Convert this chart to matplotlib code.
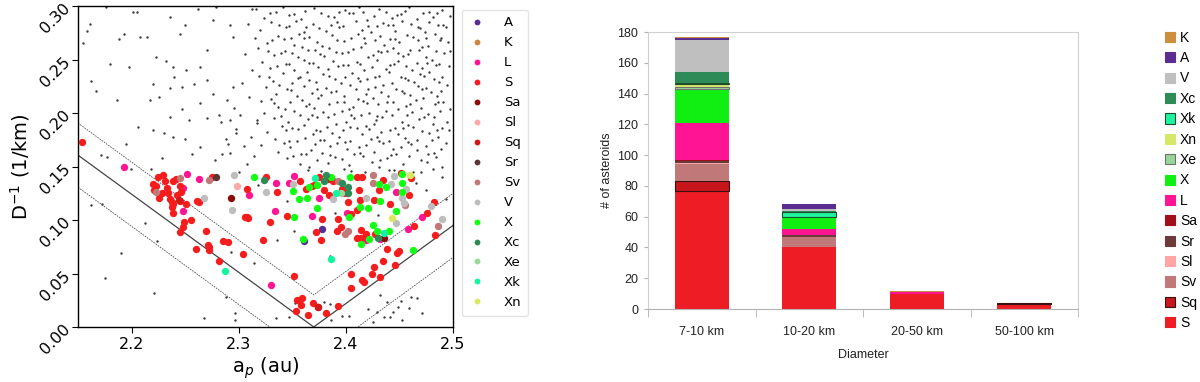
import matplotlib
matplotlib.use("Agg")
import matplotlib.pyplot as plt
import numpy as np
from matplotlib.patches import Patch
from matplotlib.lines import Line2D
from matplotlib.ticker import FixedLocator

# ---------------- Left panel data ----------------
CLASSES = ['A', 'K', 'L', 'S', 'Sa', 'Sl', 'Sq', 'Sr', 'Sv', 'V', 'X', 'Xc', 'Xe', 'Xk', 'Xn']
SCAT_COLORS = {'A': '#5b2c91', 'K': '#cd853f', 'L': '#ff1493', 'S': '#f41c1c', 'Sa': '#8b0a0a',
               'Sl': '#ffa8a8', 'Sq': '#d01a1a', 'Sr': '#5e3535', 'Sv': '#c07878', 'V': '#bdbdbd',
               'X': '#11ff11', 'Xc': '#2e8b57', 'Xe': '#98d998', 'Xk': '#14f5a0', 'Xn': '#d8e860'}

S_x = [2.154, 2.229, 2.225, 2.220, 2.223, 2.221, 2.226, 2.228, 2.231, 2.239, 2.241, 2.245, 2.234,
       2.236, 2.238, 2.242, 2.245, 2.239, 2.238, 2.239, 2.245, 2.248, 2.249, 2.251, 2.255, 2.260,
       2.261, 2.263, 2.269, 2.271, 2.272, 2.272, 2.282, 2.285, 2.290, 2.275, 2.304, 2.308, 2.306,
       2.308, 2.309, 2.323, 2.329, 2.325, 2.336, 2.345, 2.352, 2.354, 2.353, 2.359, 2.358, 2.365,
       2.369, 2.374, 2.381, 2.393, 2.357, 2.363, 2.368, 2.372, 2.377, 2.378, 2.375, 2.380, 2.384,
       2.388, 2.392, 2.393, 2.395, 2.396, 2.401, 2.402, 2.405, 2.405, 2.405, 2.410, 2.412, 2.413,
       2.410, 2.410, 2.415, 2.414, 2.415, 2.417, 2.414, 2.419, 2.424, 2.426, 2.426, 2.432, 2.435,
       2.438, 2.435, 2.441, 2.446, 2.448, 2.450, 2.451, 2.459, 2.461, 2.464, 2.476, 2.482, 2.483,
       2.431, 2.427, 2.233, 2.246, 2.370]
S_y = [0.173, 0.142, 0.140, 0.134, 0.132, 0.128, 0.121, 0.125, 0.136, 0.136, 0.138, 0.132, 0.125,
       0.120, 0.117, 0.123, 0.118, 0.115, 0.112, 0.107, 0.089, 0.093, 0.098, 0.115, 0.100, 0.073,
       0.118, 0.117, 0.090, 0.077, 0.072, 0.075, 0.062, 0.080, 0.079, 0.140, 0.068, 0.129, 0.103,
       0.103, 0.102, 0.081, 0.098, 0.140, 0.126, 0.104, 0.048, 0.025, 0.015, 0.027, 0.021, 0.011,
       0.022, 0.019, 0.013, 0.020, 0.136, 0.129, 0.132, 0.089, 0.081, 0.101, 0.140, 0.128, 0.123,
       0.136, 0.090, 0.101, 0.093, 0.129, 0.125, 0.117, 0.106, 0.050, 0.036, 0.140, 0.128, 0.119,
       0.109, 0.083, 0.140, 0.091, 0.044, 0.042, 0.083, 0.087, 0.050, 0.056, 0.119, 0.047, 0.062,
       0.073, 0.137, 0.115, 0.058, 0.069, 0.071, 0.144, 0.123, 0.139, 0.094, 0.107, 0.117, 0.086,
       0.128, 0.087, 0.130, 0.126, 0.133]
L_x = [2.193, 2.252, 2.263, 2.310, 2.248, 2.335, 2.334, 2.330, 2.352, 2.347, 2.368, 2.375, 2.398,
       2.401, 2.419, 2.447, 2.458, 2.471, 2.432, 2.248]
L_y = [0.150, 0.143, 0.138, 0.123, 0.108, 0.135, 0.108, 0.039, 0.141, 0.135, 0.104, 0.121, 0.125,
       0.107, 0.081, 0.126, 0.092, 0.103, 0.082, 0.130]
V_x = [2.268, 2.294, 2.296, 2.325, 2.351, 2.388, 2.419, 2.445, 2.442, 2.452, 2.454, 2.447, 2.456,
       2.479, 2.490]
V_y = [0.121, 0.109, 0.142, 0.126, 0.134, 0.120, 0.121, 0.141, 0.134, 0.121, 0.116, 0.097, 0.129,
       0.113, 0.101]
X_x = [2.314, 2.351, 2.352, 2.356, 2.360, 2.364, 2.373, 2.366, 2.373, 2.386, 2.404, 2.403, 2.413,
       2.421, 2.414, 2.422, 2.425, 2.429, 2.432, 2.431, 2.437, 2.440, 2.447, 2.452, 2.452, 2.452,
       2.463]
X_y = [0.140, 0.127, 0.103, 0.120, 0.082, 0.121, 0.111, 0.131, 0.133, 0.140, 0.140, 0.103, 0.112,
       0.111, 0.078, 0.082, 0.095, 0.090, 0.118, 0.134, 0.131, 0.090, 0.108, 0.143, 0.135, 0.126,
       0.072]
Xc_x = [2.324, 2.381, 2.380, 2.396, 2.402, 2.402, 2.430]
Xc_y = [0.137, 0.142, 0.136, 0.135, 0.131, 0.125, 0.083]
Xk_x = [2.371, 2.287, 2.386, 2.391, 2.436]
Xk_y = [0.139, 0.052, 0.064, 0.125, 0.088]
Xe_x = [2.395]
Xe_y = [0.125]
Xn_x = [2.460, 2.443]
Xn_y = [0.142, 0.102]
A_x = [2.378, 2.361, 2.419]
A_y = [0.092, 0.080, 0.084]
K_x = []
K_y = []
Sa_x = [2.293, 2.436]
Sa_y = [0.121, 0.083]
Sr_x = [2.279]
Sr_y = [0.140]
Sv_x = [2.272, 2.245, 2.223, 2.399, 2.402, 2.393, 2.425, 2.425, 2.455, 2.486]
Sv_y = [0.137, 0.139, 0.126, 0.087, 0.090, 0.136, 0.142, 0.135, 0.114, 0.094]
Sl_x = [2.298]
Sl_y = [0.132]
Sq_x = [2.244, 2.383, 2.374]
Sq_y = [0.119, 0.138, 0.019]

# background asteroids (grey dots)
GREY_X = [
 2.316, 2.335, 2.341, 2.362, 2.370, 2.377, 2.399, 2.412, 2.416, 2.431, 2.455, 2.459, 2.472, 2.490,
 2.324, 2.347, 2.358, 2.383, 2.389, 2.403, 2.420, 2.426, 2.443, 2.448, 2.466, 2.481, 2.497,
 2.330, 2.338, 2.353, 2.369, 2.392, 2.397, 2.409, 2.435, 2.439, 2.452, 2.461, 2.478, 2.486,
 2.320, 2.344, 2.361, 2.375, 2.381, 2.394, 2.415, 2.423, 2.429, 2.446, 2.469, 2.474, 2.493,
 2.337, 2.349, 2.356, 2.366, 2.387, 2.405, 2.411, 2.432, 2.441, 2.457, 2.463, 2.483, 2.489,
 2.326, 2.331, 2.352, 2.373, 2.378, 2.398, 2.418, 2.427, 2.436, 2.450, 2.467, 2.477, 2.495,
 2.318, 2.343, 2.359, 2.365, 2.384, 2.391, 2.407, 2.414, 2.438, 2.444, 2.460, 2.471, 2.484,
 2.333, 2.339, 2.355, 2.376, 2.380, 2.396, 2.421, 2.425, 2.433, 2.453, 2.458, 2.475, 2.492,
 2.322, 2.347, 2.361, 2.369, 2.388, 2.402, 2.410, 2.429, 2.445, 2.449, 2.466, 2.480, 2.487,
 2.329, 2.336, 2.352, 2.374, 2.383, 2.393, 2.417, 2.424, 2.437, 2.456, 2.462, 2.471, 2.496,
 2.319, 2.341, 2.357, 2.364, 2.379, 2.399, 2.406, 2.431, 2.440, 2.451, 2.469, 2.478, 2.490,
 2.332, 2.350, 2.366, 2.372, 2.390, 2.395, 2.413, 2.420, 2.443, 2.458, 2.464, 2.482, 2.487,
 2.325, 2.338, 2.345, 2.361, 2.381, 2.404, 2.409, 2.427, 2.435, 2.447, 2.467, 2.475, 2.494,
 2.335, 2.354, 2.368, 2.377, 2.386, 2.398, 2.419, 2.433, 2.439, 2.454, 2.460, 2.479, 2.485,
 2.321, 2.330, 2.348, 2.359, 2.374, 2.392, 2.411, 2.416, 2.425, 2.444, 2.465, 2.472, 2.491,
 2.337, 2.343, 2.363, 2.370, 2.384, 2.403, 2.407, 2.430, 2.449, 2.456, 2.470, 2.483, 2.497,
 2.324, 2.352, 2.357, 2.379, 2.389, 2.396, 2.414, 2.422, 2.437, 2.443, 2.462, 2.477, 2.488,
 2.317, 2.333, 2.346, 2.365, 2.373, 2.400, 2.408, 2.428, 2.434, 2.452, 2.468, 2.473, 2.494,
 2.340, 2.350, 2.361, 2.382, 2.391, 2.410, 2.419, 2.426, 2.446, 2.458, 2.463, 2.481, 2.490,
 2.326, 2.344, 2.369, 2.376, 2.387, 2.397, 2.415, 2.433, 2.441, 2.449, 2.471, 2.478, 2.496,
 2.334, 2.354, 2.362, 2.380, 2.394, 2.404, 2.423, 2.429, 2.440, 2.455, 2.466, 2.486,
 2.321, 2.342, 2.348, 2.371, 2.385, 2.392, 2.412, 2.419, 2.435, 2.451, 2.461, 2.475, 2.493,
 2.337, 2.358, 2.367, 2.378, 2.401, 2.408, 2.426, 2.444, 2.447, 2.466, 2.482, 2.489,
 2.345, 2.351, 2.373, 2.390, 2.396, 2.416, 2.432, 2.438, 2.459, 2.470, 2.484,
 2.357, 2.366, 2.383, 2.403, 2.424, 2.431, 2.453, 2.476, 2.490,
 2.377, 2.398, 2.418, 2.445, 2.463, 2.481,
 2.329, 2.352, 2.394, 2.407, 2.437, 2.451, 2.478, 2.485,
 2.347, 2.363, 2.386, 2.421, 2.444, 2.467, 2.491,
 2.342, 2.361, 2.392, 2.417, 2.446, 2.475, 2.488,
 2.327, 2.350, 2.371, 2.402, 2.430, 2.449, 2.468, 2.497,
 2.344, 2.366, 2.397, 2.413, 2.441, 2.476, 2.484,
 2.328, 2.355, 2.384, 2.411, 2.427, 2.455, 2.473,
 2.349, 2.373, 2.391, 2.421, 2.452, 2.471, 2.489,
 2.333, 2.366, 2.398, 2.420, 2.438, 2.460, 2.486,
 2.339, 2.368, 2.383, 2.405, 2.429, 2.457, 2.482,
 2.355, 2.372, 2.404, 2.422, 2.453, 2.485,
 2.347, 2.376, 2.399, 2.431, 2.458, 2.480,
 2.363, 2.385, 2.413, 2.442, 2.477,
 2.283, 2.288, 2.297, 2.305, 2.301, 2.311, 2.314, 2.308, 2.292, 2.317, 2.296, 2.310, 2.303, 2.312,
 2.306, 2.315, 2.309, 2.312,
 2.176, 2.161, 2.158, 2.188, 2.193, 2.208, 2.214, 2.201, 2.205, 2.236, 2.245, 2.250, 2.262, 2.279,
 2.295, 2.292, 2.276, 2.270, 2.264, 2.251, 2.239, 2.240, 2.220, 2.217, 2.226, 2.236, 2.247, 2.258,
 2.270, 2.276, 2.289, 2.295, 2.264, 2.247, 2.236, 2.254, 2.270, 2.282, 2.292, 2.297, 2.290, 2.284,
 2.278, 2.264, 2.256, 2.250, 2.239, 2.230, 2.220, 2.206, 2.195, 2.186, 2.167, 2.162, 2.155, 2.180,
 2.198, 2.223, 2.232,
 2.162, 2.172, 2.190, 2.2125, 2.224, 2.177, 2.171, 2.228, 2.218, 2.199, 2.175, 2.221, 2.288, 2.2965,
 2.268, 2.2965, 2.314, 2.293,
 2.432, 2.438, 2.451, 2.461, 2.466, 2.459, 2.421, 2.429, 2.444, 2.449, 2.471, 2.452, 2.436, 2.441,
 2.425, 2.403, 2.396, 2.386, 2.385, 2.380, 2.347, 2.335, 2.3525,
 2.336, 2.385, 2.300, 2.318, 2.345, 2.365, 2.405, 2.440, 2.470, 2.490, 2.475, 2.465, 2.493, 2.430,
 2.390, 2.352,
]
GREY_Y = [
 0.297, 0.294, 0.299, 0.295, 0.298, 0.293, 0.296, 0.299, 0.294, 0.297, 0.295, 0.299, 0.293, 0.296,
 0.289, 0.292, 0.288, 0.291, 0.290, 0.293, 0.287, 0.291, 0.289, 0.292, 0.288, 0.290, 0.291,
 0.285, 0.282, 0.286, 0.283, 0.285, 0.281, 0.286, 0.284, 0.282, 0.286, 0.283, 0.285, 0.282,
 0.278, 0.280, 0.276, 0.279, 0.277, 0.280, 0.278, 0.276, 0.281, 0.277, 0.279, 0.276, 0.280,
 0.272, 0.270, 0.274, 0.271, 0.273, 0.270, 0.274, 0.272, 0.269, 0.273, 0.271, 0.274, 0.270,
 0.265, 0.268, 0.264, 0.266, 0.263, 0.267, 0.265, 0.268, 0.264, 0.266, 0.268, 0.263, 0.266,
 0.261, 0.258, 0.262, 0.259, 0.261, 0.257, 0.260, 0.262, 0.258, 0.261, 0.259, 0.262, 0.258,
 0.254, 0.256, 0.252, 0.255, 0.253, 0.256, 0.252, 0.254, 0.257, 0.253, 0.255, 0.252, 0.256,
 0.248, 0.246, 0.250, 0.247, 0.249, 0.245, 0.248, 0.250, 0.246, 0.249, 0.247, 0.250, 0.246,
 0.242, 0.244, 0.240, 0.243, 0.241, 0.244, 0.240, 0.243, 0.241, 0.244, 0.240, 0.242, 0.244,
 0.235, 0.237, 0.234, 0.238, 0.236, 0.234, 0.237, 0.235, 0.238, 0.234, 0.236, 0.238, 0.234,
 0.230, 0.228, 0.231, 0.229, 0.232, 0.228, 0.230, 0.232, 0.228, 0.231, 0.229, 0.232, 0.229,
 0.224, 0.226, 0.222, 0.225, 0.223, 0.226, 0.222, 0.224, 0.226, 0.222, 0.225, 0.223, 0.226,
 0.218, 0.216, 0.219, 0.217, 0.220, 0.216, 0.218, 0.220, 0.216, 0.219, 0.217, 0.220, 0.216,
 0.211, 0.213, 0.210, 0.212, 0.214, 0.210, 0.213, 0.211, 0.214, 0.210, 0.212, 0.214, 0.210,
 0.206, 0.204, 0.207, 0.205, 0.208, 0.204, 0.206, 0.208, 0.204, 0.207, 0.205, 0.208, 0.204,
 0.200, 0.202, 0.198, 0.201, 0.199, 0.202, 0.198, 0.200, 0.202, 0.198, 0.201, 0.199, 0.202,
 0.193, 0.195, 0.192, 0.194, 0.196, 0.192, 0.195, 0.193, 0.196, 0.192, 0.194, 0.196, 0.192,
 0.188, 0.186, 0.189, 0.187, 0.190, 0.186, 0.188, 0.190, 0.186, 0.189, 0.187, 0.190, 0.186,
 0.182, 0.184, 0.180, 0.183, 0.181, 0.184, 0.180, 0.182, 0.184, 0.180, 0.183, 0.181, 0.184,
 0.176, 0.174, 0.177, 0.175, 0.178, 0.174, 0.176, 0.178, 0.174, 0.177, 0.175, 0.178,
 0.170, 0.172, 0.168, 0.171, 0.169, 0.172, 0.168, 0.170, 0.172, 0.168, 0.171, 0.169, 0.172,
 0.164, 0.162, 0.165, 0.163, 0.166, 0.162, 0.164, 0.166, 0.162, 0.165, 0.163, 0.166,
 0.158, 0.160, 0.156, 0.159, 0.157, 0.160, 0.156, 0.158, 0.160, 0.156, 0.159,
 0.152, 0.150, 0.153, 0.151, 0.154, 0.150, 0.152, 0.154, 0.150,
 0.146, 0.148, 0.145, 0.147, 0.145, 0.148,
 0.2935, 0.2925, 0.2945, 0.2930, 0.2940, 0.2925, 0.2945, 0.2935,
 0.2815, 0.2805, 0.2825, 0.2810, 0.2820, 0.2805, 0.2825,
 0.2695, 0.2705, 0.2685, 0.2700, 0.2690, 0.2705, 0.2685,
 0.2575, 0.2565, 0.2585, 0.2570, 0.2580, 0.2565, 0.2585, 0.2575,
 0.2455, 0.2465, 0.2445, 0.2460, 0.2450, 0.2465, 0.2445,
 0.2335, 0.2325, 0.2345, 0.2330, 0.2340, 0.2325, 0.2345,
 0.2215, 0.2225, 0.2205, 0.2220, 0.2210, 0.2225, 0.2205,
 0.2095, 0.2085, 0.2105, 0.2090, 0.2100, 0.2085, 0.2105,
 0.1975, 0.1985, 0.1965, 0.1980, 0.1970, 0.1985, 0.1965,
 0.1855, 0.1845, 0.1865, 0.1850, 0.1860, 0.1845,
 0.1735, 0.1745, 0.1725, 0.1740, 0.1730, 0.1745,
 0.1615, 0.1605, 0.1625, 0.1610, 0.1620,
 0.192, 0.176, 0.185, 0.169, 0.198, 0.178, 0.160, 0.152, 0.163, 0.191, 0.205, 0.215, 0.228, 0.240,
 0.255, 0.270, 0.283, 0.297,
 0.299, 0.283, 0.277, 0.269, 0.274, 0.271, 0.271, 0.294, 0.294, 0.290, 0.274, 0.282, 0.297, 0.299,
 0.271, 0.282, 0.287, 0.259, 0.243, 0.240, 0.243, 0.234, 0.227, 0.212, 0.215, 0.223, 0.224, 0.227,
 0.231, 0.218, 0.212, 0.224, 0.209, 0.204, 0.196, 0.193, 0.195, 0.198, 0.193, 0.181, 0.171, 0.162,
 0.156, 0.168, 0.162, 0.176, 0.178, 0.181, 0.184, 0.187, 0.171, 0.212, 0.221, 0.230, 0.265, 0.246,
 0.243, 0.252, 0.249,
 0.114, 0.115, 0.069, 0.097, 0.080, 0.159, 0.161, 0.158, 0.148, 0.148, 0.046, 0.032, 0.028, 0.013,
 0.008, 0.0065, 0.060, 0.070,
 0.030, 0.023, 0.024, 0.028, 0.027, 0.018, 0.017, 0.014, 0.014, 0.019, 0.013, 0.0065, 0.009, 0.009,
 0.0047, 0.010, 0.010, 0.0065, 0.0215, 0.023, 0.009, 0.0084, 0.022,
 0.081, 0.066, 0.145, 0.133, 0.118, 0.147, 0.146, 0.147, 0.145, 0.140, 0.128, 0.135, 0.120, 0.105,
 0.107, 0.090,
]

# V-shaped family boundary (model lines)
V_CENTER = 2.37
V_SLOPE = 0.73
V_WIDTH = 0.03

# ---------------- Right panel data ----------------
DIAM_CATS = ['7-10 km', '10-20 km', '20-50 km', '50-100 km']
STACK_ORDER = ['S', 'Sq', 'Sv', 'Sl', 'Sr', 'Sa', 'L', 'X', 'Xe', 'Xn', 'Xk', 'Xc', 'V', 'A', 'K']
cnt_S = [77, 40, 10, 3]
cnt_Sq = [6, 0, 0, 1]
cnt_Sv = [11, 7, 0, 0]
cnt_Sl = [1, 0, 0, 0]
cnt_Sr = [1, 1, 0, 0]
cnt_Sa = [1, 0, 0, 0]
cnt_L = [24, 4, 1, 0]
cnt_X = [22, 8, 0, 0]
cnt_Xe = [1, 0, 0, 0]
cnt_Xn = [2, 0, 0, 0]
cnt_Xk = [1, 3, 0, 0]
cnt_Xc = [7, 1, 0, 0]
cnt_V = [21, 1, 0, 0]
cnt_A = [1, 3, 0, 0]
cnt_K = [1, 0, 1, 0]
BAR_COLORS = {'K': '#cc8f3f', 'A': '#5c2d91', 'V': '#bfbfbf', 'Xc': '#2e8b57', 'Xk': '#1ef5a0',
              'Xn': '#d6e86a', 'Xe': '#99d699', 'X': '#11ee11', 'L': '#ff1493', 'Sa': '#a0101a',
              'Sr': '#6b3a3a', 'Sl': '#ffa5a5', 'Sv': '#c07878', 'Sq': '#c8161d', 'S': '#ee1c25'}
BAR_EDGES = {'Sq': '#3a1010', 'Xk': '#1d4d2d', 'Xe': '#707070'}

# ---------------- Figure ----------------
W, H = 1200, 382
fig = plt.figure(figsize=(12, 3.82), dpi=100)

ax1 = fig.add_axes([78 / W, 1 - 327 / H, 375 / W, 321 / H])
ax1.scatter(GREY_X, GREY_Y, s=3, color='#3a3a3a', linewidths=0, zorder=1)

a = np.linspace(2.15, 2.5, 701)
base = V_SLOPE * np.abs(a - V_CENTER)
ax1.plot(a, base, color='#444444', lw=0.9, zorder=2)
ax1.plot(a, base + V_WIDTH, color='#555555', lw=0.6, ls=(0, (2, 1.2)), zorder=2)
ax1.plot(a, base - V_WIDTH, color='#555555', lw=0.6, ls=(0, (2, 1.2)), zorder=2)

series = {'A': (A_x, A_y), 'K': (K_x, K_y), 'L': (L_x, L_y), 'S': (S_x, S_y), 'Sa': (Sa_x, Sa_y),
          'Sl': (Sl_x, Sl_y), 'Sq': (Sq_x, Sq_y), 'Sr': (Sr_x, Sr_y), 'Sv': (Sv_x, Sv_y),
          'V': (V_x, V_y), 'X': (X_x, X_y), 'Xc': (Xc_x, Xc_y), 'Xe': (Xe_x, Xe_y),
          'Xk': (Xk_x, Xk_y), 'Xn': (Xn_x, Xn_y)}
handles = []
for c in CLASSES:
    xs, ys = series[c]
    ax1.scatter(xs, ys, s=28, color=SCAT_COLORS[c], linewidths=0, zorder=3)
    handles.append(Line2D([], [], ls='none', marker='o', markersize=4.2,
                          markerfacecolor=SCAT_COLORS[c], markeredgewidth=0, label=c))

ax1.set_xlim(2.15, 2.5)
ax1.set_ylim(0, 0.30)
ax1.set_xticks([2.2, 2.3, 2.4, 2.5])
ax1.set_yticks([0.0, 0.05, 0.10, 0.15, 0.20, 0.25, 0.30])
ax1.set_yticklabels(['0.00', '0.05', '0.10', '0.15', '0.20', '0.25', '0.30'], rotation=45,
                    rotation_mode='anchor', ha='right', va='center')
ax1.tick_params(labelsize=11.5, length=4, width=0.8)
ax1.set_xlabel('a$_p$ (au)', fontsize=14, labelpad=2)
ax1.set_ylabel('D$^{-1}$ (1/km)', fontsize=14, labelpad=4)
for sp in ax1.spines.values():
    sp.set_linewidth(1.0)

fig.legend(handles=handles, loc='upper left', bbox_to_anchor=(455 / W, 1 - 3 / H),
           fontsize=9.5, frameon=True, labelspacing=0.53, handletextpad=1.3,
           borderpad=0.5, handlelength=1.4, fancybox=True, edgecolor='#dddddd')

# ---------------- Right panel ----------------
ax2 = fig.add_axes([648 / W, 1 - 309 / H, 430 / W, 277 / H])
counts = {'S': cnt_S, 'Sq': cnt_Sq, 'Sv': cnt_Sv, 'Sl': cnt_Sl, 'Sr': cnt_Sr, 'Sa': cnt_Sa,
          'L': cnt_L, 'X': cnt_X, 'Xe': cnt_Xe, 'Xn': cnt_Xn, 'Xk': cnt_Xk, 'Xc': cnt_Xc,
          'V': cnt_V, 'A': cnt_A, 'K': cnt_K}
pos = np.arange(len(DIAM_CATS))
bottom = np.zeros(len(DIAM_CATS))
for c in STACK_ORDER:
    vals = np.array(counts[c], dtype=float)
    nz = vals > 0
    edge = BAR_EDGES.get(c, 'none')
    ax2.bar(pos[nz], vals[nz], width=0.5, bottom=bottom[nz], color=BAR_COLORS[c],
            edgecolor=edge, linewidth=0.8 if c in BAR_EDGES else 0, zorder=2)
    bottom += vals

ax2.set_xlim(-0.5, 3.5)
ax2.set_ylim(0, 180)
ax2.set_yticks(range(0, 181, 20))
ax2.set_xticks(pos)
ax2.set_xticklabels(DIAM_CATS)
ax2.xaxis.set_minor_locator(FixedLocator([-0.5, 0.5, 1.5, 2.5, 3.5]))
ax2.tick_params(axis='x', which='major', length=0, pad=12)
ax2.tick_params(axis='x', which='minor', length=6, color='#b3b3b3')
ax2.tick_params(axis='y', length=3, color='#b3b3b3', pad=4)
for lab in ax2.get_xticklabels() + ax2.get_yticklabels():
    lab.set_fontfamily('Liberation Sans')
    lab.set_fontsize(9)
    lab.set_color('#222222')
for sp in ax2.spines.values():
    sp.set_color('#d0d0d0')
    sp.set_linewidth(0.8)
ax2.spines['bottom'].set_color('#b3b3b3')
ax2.set_xlabel('Diameter', fontfamily='Liberation Sans', fontsize=9, labelpad=8, color='#222222')
ax2.set_ylabel('# of asteroids', fontfamily='Liberation Sans', fontsize=9, labelpad=3,
               color='#222222')

bar_handles = []
for c in STACK_ORDER[::-1]:
    bar_handles.append(Patch(facecolor=BAR_COLORS[c], edgecolor=BAR_EDGES.get(c, BAR_COLORS[c]),
                             linewidth=0.8, label=c))
fig.legend(handles=bar_handles, loc='upper left', bbox_to_anchor=(1155 / W, 1 - 21 / H),
           frameon=False, prop={'family': 'Liberation Sans', 'size': 10},
           handlelength=0.75, handleheight=0.75, handletextpad=0.35, labelspacing=0.46,
           borderpad=0.2)

fig.savefig('out.png', dpi=100)
